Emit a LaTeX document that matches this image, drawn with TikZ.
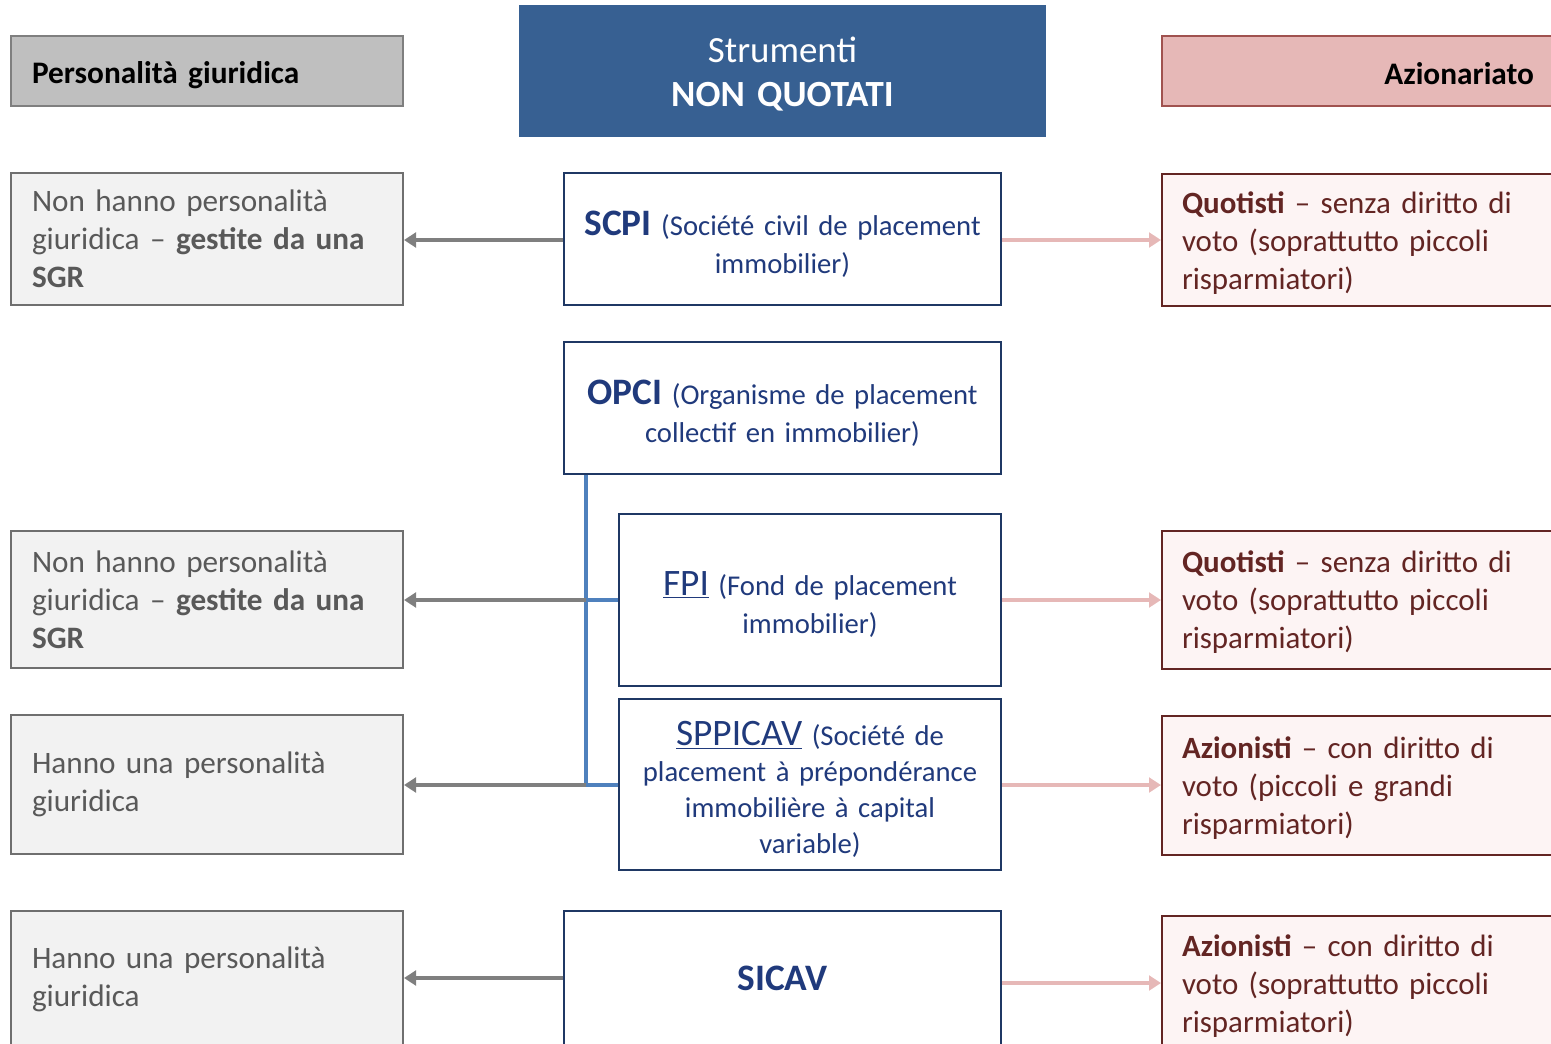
\documentclass[tikz,border=0pt]{standalone}
\usepackage{fontspec}
\setmainfont{Carlito}
\usetikzlibrary{arrows.meta}
\definecolor{hgray}{HTML}{BFBFBF}
\definecolor{hgraybd}{HTML}{7F7F7F}
\definecolor{hblue}{HTML}{376092}
\definecolor{hpink}{HTML}{E6B8B7}
\definecolor{hpinkbd}{HTML}{A0524F}
\definecolor{lfill}{HTML}{F2F2F2}
\definecolor{lbord}{HTML}{6F6F6F}
\definecolor{ltext}{HTML}{595959}
\definecolor{cbord}{HTML}{1F3864}
\definecolor{ctext}{HTML}{203A7C}
\definecolor{rfill}{HTML}{FDF4F4}
\definecolor{rbord}{HTML}{632523}
\definecolor{rtext}{HTML}{632523}
\definecolor{garrow}{HTML}{7F7F7F}
\definecolor{parrow}{HTML}{E6B8B7}
\definecolor{bline}{HTML}{4F81BD}
\newcommand\biglab[1]{{\fontsize{28}{30}\selectfont #1}}
\newcommand\tstrut[1]{\rule{0pt}{#1}}
\begin{document}
\begin{tikzpicture}[x=0.75pt,y=-0.75pt,
  lbox/.style={draw=lbord, fill=lfill, line width=1.5pt, text=ltext, align=left,
    inner xsep=21*0.75pt, inner ysep=0pt, text width=350*0.75pt, minimum height=#1*0.75pt,
    font=\fontsize{23.4}{28.5}\selectfont},
  rbox/.style={draw=rbord, fill=rfill, line width=1.5pt, text=rtext, align=left,
    inner xsep=20*0.75pt, inner ysep=0pt, text width=360*0.75pt, minimum height=#1*0.75pt,
    font=\fontsize{23.2}{28.5}\selectfont},
  cbox/.style={draw=cbord, fill=white, line width=1.5pt, text=ctext, align=center,
    inner xsep=8*0.75pt, inner ysep=0pt, minimum height=#1*0.75pt,
    font=\fontsize{21.5}{28.5}\selectfont},
  garr/.style={draw=garrow, line width=3pt, -{Triangle[length=9pt,width=11pt]}},
  parr/.style={draw=parrow, line width=2.5pt, -{Triangle[length=9pt,width=11pt]}},
  blin/.style={draw=bline, line width=2.5pt}
]
\useasboundingbox (0,0) rectangle (1551,1043);
\clip (0,0) rectangle (1551,1043);

% headers
\node[draw=hgraybd, fill=hgray, line width=0.8pt, align=left, inner xsep=21*0.75pt, inner ysep=0pt,
  text width=350*0.75pt, minimum height=70*0.75pt, font=\bfseries\fontsize{23.5}{25}\selectfont]
  (hl) at (207,71) {\tstrut{22pt}Personalità giuridica};
\node[fill=hblue, text=white, align=center, text width=527*0.75pt, inner sep=0pt,
  minimum height=132*0.75pt, font=\fontsize{27.7}{33}\selectfont]
  (hc) at (782.5,71) {\tstrut{24pt}Strumenti\\\textbf{NON QUOTATI}};
\node[draw=hpinkbd, fill=hpink, line width=0.8pt, align=right, inner xsep=20*0.75pt, inner ysep=0pt,
  text width=352*0.75pt, minimum height=70*0.75pt, font=\bfseries\fontsize{23.5}{25}\selectfont]
  (hr) at (1358,71) {\tstrut{21pt}Azionariato};

% left column
\node[lbox=132] (l1) at (207,239) {Non hanno personalità\\giuridica -- \textbf{gestite da una}\\\textbf{SGR}};
\node[lbox=137] (l2) at (207,599.5) {Non hanno personalità\\giuridica -- \textbf{gestite da una}\\\textbf{SGR}};
\node[lbox=139] (l3) at (207,784.5) {Hanno una personalità\\giuridica};
\node[lbox=136] (l4) at (207,979) {Hanno una personalità\\giuridica};

% center column
\node[cbox=132, text width=421*0.75pt] (scpi) at (782.5,239)
  {\tstrut{26pt}\biglab{\bfseries SCPI} (Société civil de placement\\immobilier)};
\node[cbox=132, text width=421*0.75pt] (opci) at (782.5,408)
  {\tstrut{26pt}\biglab{\bfseries OPCI} (Organisme de placement\\collectif en immobilier)};
\node[cbox=172, text width=366*0.75pt] (fpi) at (810,600)
  {\tstrut{25pt}\biglab{\underline{FPI}} (Fond de placement\\immobilier)};
\node[cbox=171, text width=366*0.75pt, font=\fontsize{21.5}{27}\selectfont] (spp) at (810,784.5)
  {\tstrut{26pt}\biglab{\underline{SPPICAV}} (Société de\\placement à prépondérance\\immobilière à capital\\variable)};
\node[cbox=134, text width=421*0.75pt] (sicav) at (782.5,978)
  {\biglab{\bfseries SICAV}};

% right column
\node[rbox=132] (r1) at (1362,240) {\tstrut{21pt}\textbf{Quotisti} -- senza diritto di\\voto (soprattutto piccoli\\risparmiatori)};
\node[rbox=138] (r2) at (1362,600) {\tstrut{20pt}\textbf{Quotisti} -- senza diritto di\\voto (soprattutto piccoli\\risparmiatori)};
\node[rbox=139] (r3) at (1362,785.5) {\tstrut{20pt}\textbf{Azionisti} -- con diritto di\\voto (piccoli e grandi\\risparmiatori)};
\node[rbox=136] (r4) at (1362,984) {\tstrut{20pt}\textbf{Azionisti} -- con diritto di\\voto (soprattutto piccoli\\risparmiatori)};

% junctions on the OPCI bracket
\coordinate (j1) at (586,600);
\coordinate (j2) at (586,785);

% connectors
\draw[blin] (opci.south -| j1) -- (j2) -- (spp.west |- j2);
\draw[blin] (j1) -- (fpi.west |- j1);

\draw[garr] (scpi.west |- 0,240) -- (l1.east |- 0,240);
\draw[garr] (j1) -- (l2.east |- j1);
\draw[garr] (j2) -- (l3.east |- j2);
\draw[garr] (sicav.west) -- (l4.east |- sicav.west);

\draw[parr] (scpi.east |- 0,240) -- (r1.west |- 0,240);
\draw[parr] (fpi.east |- j1) -- (r2.west |- j1);
\draw[parr] (spp.east |- j2) -- (r3.west |- j2);
\draw[parr] (sicav.east |- 0,983) -- (r4.west |- 0,983);
\end{tikzpicture}
\end{document}
